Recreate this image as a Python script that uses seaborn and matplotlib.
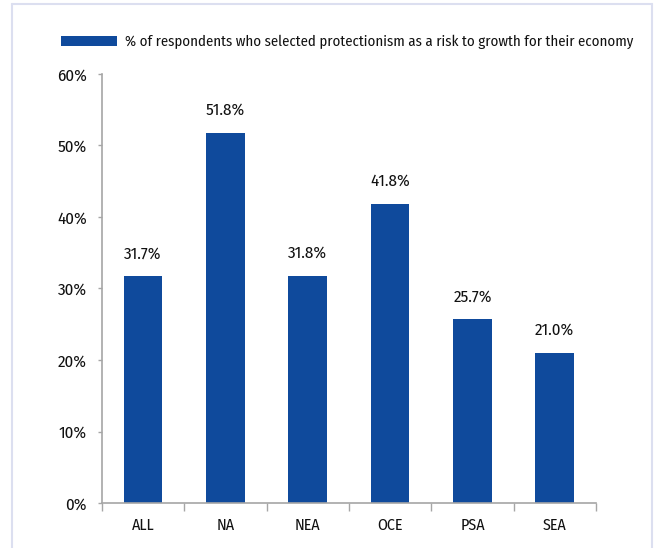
import matplotlib
matplotlib.use("Agg")
import matplotlib.pyplot as plt
from matplotlib.lines import Line2D
from matplotlib.patches import Patch
import seaborn as sns
import pandas as pd

regions = ["ALL", "NA", "NEA", "OCE", "PSA", "SEA"]
shares = [31.7, 51.8, 31.8, 41.8, 25.7, 21.0]
y_ticks = [0, 10, 20, 30, 40, 50, 60]
series_label = "% of respondents who selected protectionism as a risk to growth for their economy"

BAR = "#0F4A9C"
AXIS = "#A6A6A6"
TXT = "#111111"
FS_CAT = 11.5
FS_NUM = 12.2
FS_LEG = 10.65

sns.set_style("white")
plt.rcParams["font.family"] = ["Fira Sans Condensed", "DejaVu Sans"]

df = pd.DataFrame({"region": regions, "share": shares})

fig = plt.figure(figsize=(6.55, 5.48), dpi=100)
ax = fig.add_axes([0.1557, 0.0821, 0.7542, 0.7829])

sns.barplot(data=df, x="region", y="share", color=BAR, saturation=1,
            width=0.47, linewidth=0, ax=ax)

ax.set_ylim(0, 60)
ax.set_xlim(-0.5, len(regions) - 0.5)
ax.set_yticks(y_ticks)
ax.set_yticklabels([f"{t}%" for t in y_ticks])
ax.set_xlabel("")
ax.set_ylabel("")

for s in ["top", "right"]:
    ax.spines[s].set_visible(False)
for s in ["left", "bottom"]:
    ax.spines[s].set_color(AXIS)
    ax.spines[s].set_linewidth(1.2)

ax.tick_params(axis="y", which="major", left=True, length=3, color=AXIS,
               width=1.0, labelsize=FS_NUM, pad=8, labelcolor=TXT)
ax.tick_params(axis="x", which="major", bottom=False, labelsize=FS_CAT, pad=7,
               labelcolor=TXT)
# category separators on the x axis
ax.set_xticks([i - 0.5 for i in range(len(regions) + 1)], minor=True)
ax.tick_params(axis="x", which="minor", bottom=True, length=6, color=AXIS,
               width=1.0)

for i, v in enumerate(shares):
    ax.annotate(f"{v:.1f}%", (i, v), xytext=(0, 13), textcoords="offset points",
                ha="center", va="baseline", fontsize=FS_NUM, color=TXT)

fig.legend(handles=[Patch(facecolor=BAR, edgecolor="none", label=series_label)],
           loc="center left", bbox_to_anchor=(61 / 655, 1 - 42 / 548),
           frameon=False, fontsize=FS_LEG, handlelength=3.8, handleheight=0.7,
           handletextpad=0.55, borderaxespad=0, borderpad=0, labelcolor=TXT)

# light outer frame
frame_col = "#DCDFF0"
fig.add_artist(Line2D([12 / 655, 12 / 655], [0, 1 - 4 / 548], color=frame_col,
                      lw=1.5, transform=fig.transFigure))
fig.add_artist(Line2D([12 / 655, 652 / 655], [1 - 4 / 548, 1 - 4 / 548],
                      color=frame_col, lw=1.5, transform=fig.transFigure))
fig.add_artist(Line2D([652 / 655, 652 / 655], [0, 1 - 4 / 548], color=frame_col,
                      lw=1.5, transform=fig.transFigure))

fig.savefig("out.png", dpi=100)
